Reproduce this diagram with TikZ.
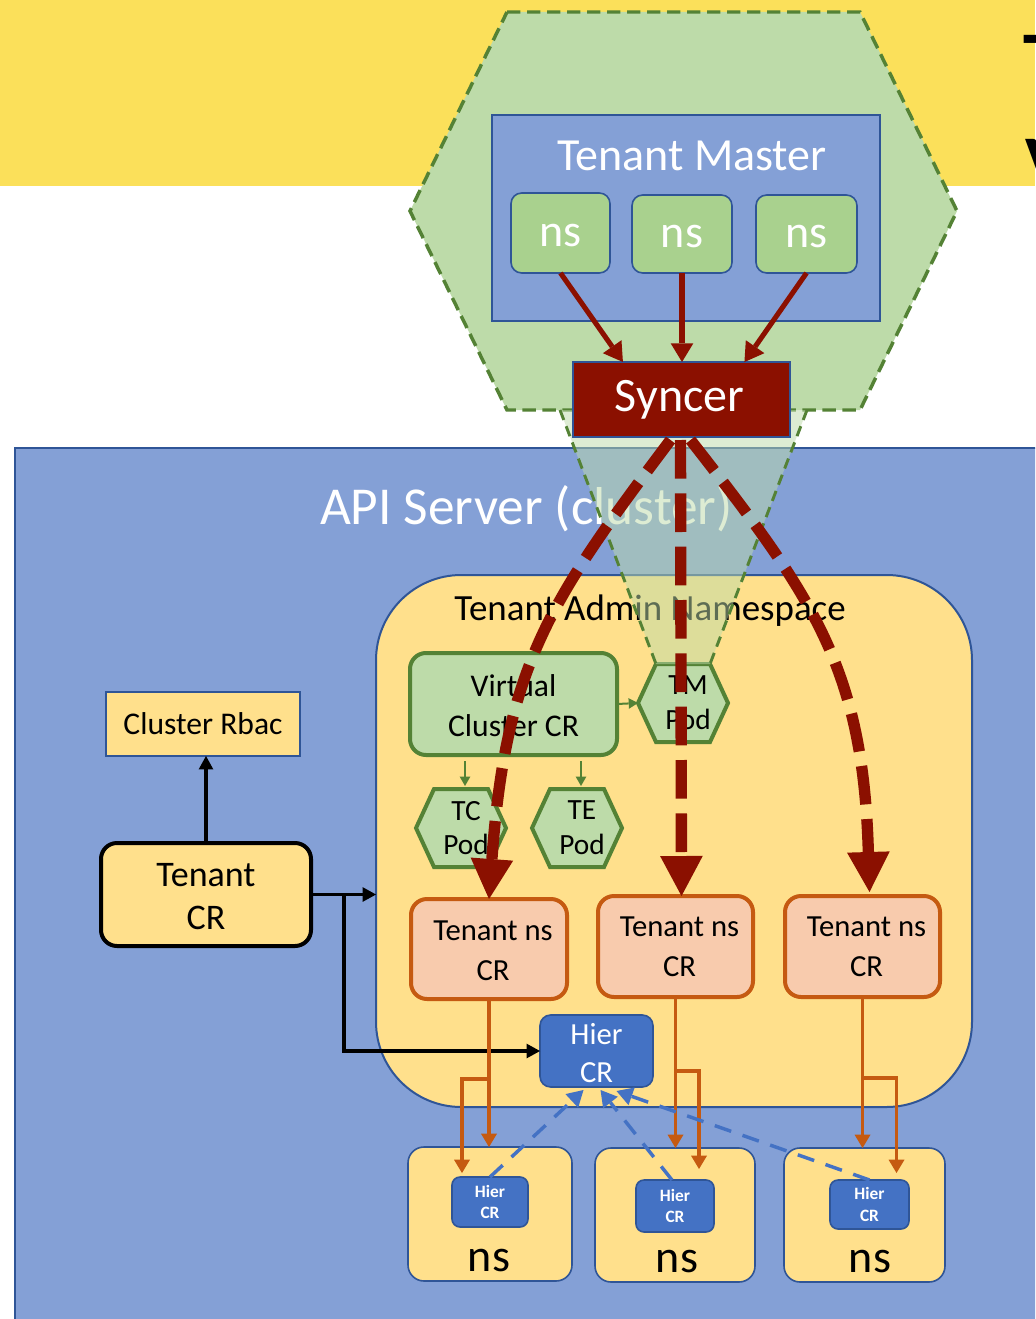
\documentclass[tikz,border=0pt]{standalone}
\usepackage{fontspec}
\setmainfont{Carlito}
\usetikzlibrary{arrows.meta,fit,calc}

\definecolor{bandyellow}{HTML}{FBE05A}
\definecolor{hexgreen}{HTML}{BDDBA9}
\definecolor{leafgreen}{HTML}{548235}
\definecolor{skyblue}{HTML}{84A0D6}
\definecolor{navy}{HTML}{2F5597}
\definecolor{nsgreen}{HTML}{A9D18E}
\definecolor{syncred}{HTML}{8B1000}
\definecolor{cream}{HTML}{FFE08C}
\definecolor{salmon}{HTML}{F8CBAD}
\definecolor{rust}{HTML}{C55A11}
\definecolor{hierblue}{HTML}{4472C4}

\newcommand\fsz[2]{\fontsize{#1}{#2}\selectfont}
% hexagonal pod: name, centre x, centre y, label
\newcommand\podhex[4]{%
  \draw[podshape] ({#2-45},#3) -- ({#2-27},{#3-39}) -- ({#2+27},{#3-39})
    -- ({#2+45},#3) -- ({#2+27},{#3+39}) -- ({#2-27},{#3+39}) -- cycle;
  \node[podtext] (#1) at ({#2+5},#3) {#4};
  \coordinate (#1-w) at ({#2-45},#3);
  \coordinate (#1-n) at ({#2+4},{#3-39});
}

\tikzset{
  lbl/.style={inner sep=0pt, outer sep=0pt, align=center},
  podshape/.style={fill=hexgreen, draw=leafgreen, line width=3pt, line join=miter},
  podtext/.style={lbl, font=\fsz{22}{26}},
  topns/.style={lbl, fill=nsgreen, draw=navy, line width=1.2pt, rounded corners=8pt},
  crbox/.style={lbl, fill=salmon, draw=rust, line width=3pt, rounded corners=12pt},
  hierbig/.style={lbl, fill=hierblue, draw=navy, line width=1.2pt, rounded corners=8pt},
  hiersmall/.style={lbl, fill=hierblue, draw=navy, line width=1.2pt, rounded corners=6pt},
  nsbox/.style={lbl, fill=cream, draw=navy, line width=1.2pt, rounded corners=12pt},
  nstext/.style={lbl, text=white, font=\fsz{34.5}{40}},
  crtext/.style={lbl, font=\fsz{23}{30}},
  hiertext/.style={lbl, text=white, font=\fsz{23}{29}},
  smalltext/.style={lbl, text=white, font=\bfseries\fsz{13}{16}},
  nslabel/.style={lbl, font=\fsz{34.5}{40}},
  trapedge/.style={draw=leafgreen, line width=2.2pt, dash pattern=on 8pt off 5pt},
  syncflow/.style={draw=syncred, line width=3.8pt, -{Triangle[width=17pt,length=14pt,line width=0pt]}},
  syncdash/.style={draw=syncred, line width=8.5pt, dash pattern=on 29pt off 11pt, -{Triangle[width=32pt,length=30pt,line width=0pt]}},
  rustarrow/.style={draw=rust, line width=2.6pt, -{Triangle[width=12pt,length=10pt,line width=0pt]}},
  bluedash/.style={draw=hierblue, line width=2.6pt, dash pattern=on 13pt off 9pt, -{Triangle[width=14pt,length=12pt,line width=0pt]}},
  blackarrow/.style={draw=black, line width=2.6pt, -{Triangle[width=11pt,length=10pt,line width=0pt]}},
  greenarrow/.style={draw=leafgreen, line width=1.5pt, -{Triangle[width=8pt,length=7pt,line width=0pt]}},
}

\begin{document}
\begin{tikzpicture}[x=0.75pt, y=-0.75pt]
\useasboundingbox (0,0) rectangle (1035,1319);
\clip (0,0) rectangle (1035,1319);
\fill[white] (0,0) rectangle (1035,1319);

% heading band
\fill[bandyellow] (0,0) rectangle (1035,186);
\node[lbl, anchor=base west, font=\bfseries\fsz{58}{64}] (head1) at (1023,86) {T};
\node[lbl, anchor=base west, font=\bfseries\fsz{58}{64}] (head2) at (1025,190) {V};

% host API server
\node[lbl, fill=skyblue, draw=navy, line width=1.5pt, fit={(15,448) (1045,1330)}] (api) {};
\node[lbl, anchor=base west, text=white, font=\fsz{40}{48}] (apitext) at (320,524) {API Server (cluster)};

% tenant master
\draw[fill=hexgreen, draw=leafgreen, line width=2.6pt, dash pattern=on 10pt off 5pt]
  (507,12) -- (860,12) -- (957,211) -- (860,410) -- (507,410) -- (410,211) -- cycle;
\node[lbl, fill=skyblue, draw=navy, line width=1.5pt, fit={(492,115) (880,321)}] (master) {};
\node[lbl, anchor=base, text=white, font=\fsz{34.5}{40}] (mastertext) at (692,171) {Tenant Master};
\node[topns, fit={(511,193) (610,273)}] (ns1) {};
\node[topns, fit={(632,195) (732,273)}] (ns2) {};
\node[topns, fit={(756,195) (857,273)}] (ns3) {};
\node[nstext] (ns1-t) at ($(ns1.center)+(0,3)$) {ns};
\node[nstext] (ns2-t) at ($(ns2.center)+(0,3)$) {ns};
\node[nstext] (ns3-t) at ($(ns3.center)+(0,3)$) {ns};

% tenant admin namespace
\node[lbl, fill=cream, draw=navy, line width=1.5pt, rounded corners=64pt, fit={(376,575) (972,1107)}] (admin) {};
\node[lbl, anchor=base, font=\fsz{27.7}{32}] (admintext) at (650,620) {Tenant Admin Namespace};

% tenant object and its rbac
\node[lbl, fill=cream, draw=navy, line width=1.2pt, fit={(106,692) (300,756)}] (rbac) {};
\node[lbl, font=\fsz{23.7}{28}] (rbac-t) at (rbac.center) {Cluster Rbac};
\node[lbl, fill=cream, draw=black, line width=3pt, rounded corners=12pt, fit={(101,843) (311,946)}] (tenantcr) {};
\node[lbl, font=\fsz{27}{32}] (tenantcr-t) at ($(tenantcr.center)+(0,2)$) {Tenant\\CR};

% virtual cluster and its pods
\node[lbl, fill=hexgreen, draw=leafgreen, line width=3pt, rounded corners=12pt, fit={(410,653) (617,755)}] (vccr) {};
\node[lbl, font=\fsz{23.7}{30}] (vccr-t) at ($(vccr.center)+(0,2)$) {Virtual\\Cluster CR};
\podhex{tmpod}{683}{703}{TM\\Pod}
\podhex{tcpod}{461}{828}{TC\\Pod}
\podhex{tepod}{577}{828}{TE\\Pod}
\draw[greenarrow] (vccr.east) -- (tmpod-w);
\draw[greenarrow] ($(vccr.south -| tcpod-n)+(0,6)$) -- ($(tcpod-n)+(0,-3)$);
\draw[greenarrow] ($(vccr.south -| tepod-n)+(0,6)$) -- ($(tepod-n)+(0,-3)$);

% tenant namespace objects
\node[crbox, fit={(411,899) (567,999)}] (nscr1) {};
\node[crbox, fit={(598,896) (753,997)}] (nscr2) {};
\node[crbox, fit={(785,896) (940,997)}] (nscr3) {};
\node[crtext] (nscr1-t) at ($(nscr1.center)+(4,2)$) {Tenant ns\\CR};
\node[crtext] (nscr2-t) at ($(nscr2.center)+(4,0)$) {Tenant ns\\CR};
\node[crtext] (nscr3-t) at ($(nscr3.center)+(4,0)$) {Tenant ns\\CR};
\node[hierbig, fit={(540,1015) (653,1087)}] (hier) {};
\node[hiertext] (hier-t) at ($(hier.center)+(0,2)$) {Hier\\CR};

% black links from the tenant object
\draw[blackarrow] (tenantcr.north) -- (tenantcr.north |- rbac.south);
\draw[blackarrow] (tenantcr.east) -- (tenantcr.east -| admin.west);
\draw[blackarrow] ($(tenantcr.east)+(33,0)$) |- (hier.west);

% host namespaces
\node[nsbox, fit={(408,1147) (572,1281)}] (nsb1) {};
\node[nsbox, fit={(595,1148) (755,1282)}] (nsb2) {};
\node[nsbox, fit={(784,1148) (945,1282)}] (nsb3) {};
\node[nslabel] (nsl1) at (489,1260) {ns};
\node[nslabel] (nsl2) at (677,1261) {ns};
\node[nslabel] (nsl3) at (870,1261) {ns};
\node[hiersmall, fit={(452,1177) (528,1227)}] (hs1) {};
\node[hiersmall, fit={(636,1180) (714,1232)}] (hs2) {};
\node[hiersmall, fit={(830,1180) (909,1229)}] (hs3) {};
\node[smalltext] (hs1-t) at (hs1.center) {Hier\\CR};
\node[smalltext] (hs2-t) at (hs2.center) {Hier\\CR};
\node[smalltext] (hs3-t) at (hs3.center) {Hier\\CR};

% namespace creation
\draw[rustarrow] (nscr1.south) -- (nscr1.south |- nsb1.north);
\draw[rustarrow] ($(nscr1.south)+(0,80)$) -| ($(hs1.north)+(-28,-4)$);
\draw[rustarrow] (nscr2.south) -- (nscr2.south |- nsb2.north);
\draw[rustarrow] ($(nscr2.south)+(0,74)$) -| ($(hs2.north)+(24,-11)$);
\draw[rustarrow] (nscr3.south) -- (nscr3.south |- nsb3.north);
\draw[rustarrow] ($(nscr3.south)+(0,81)$) -| ($(hs3.north)+(27,-7)$);

% hierarchy references
\draw[bluedash] (hs1.north) -- ($(hier.south)+(-13,3)$);
\draw[bluedash] ($(hs2.north)+(-3,0)$) -- ($(hier.south)+(4,3)$);
\draw[bluedash] (hs3.north) -- ($(hier.south)+(20,4)$);

% tenant master footprint down to its pod
\fill[hexgreen, fill opacity=0.5] (560,410) -- (807,410) -- (710,664) -- (656,664) -- cycle;
\draw[trapedge] (560,410) -- (656,664);
\draw[trapedge] (807,410) -- (710,664);

% syncer
\node[lbl, fill=syncred, draw=navy, line width=1.2pt, fit={(573,362) (790,437)}] (syncer) {};
\node[lbl, text=white, font=\fsz{36}{40}] (syncer-t) at ($(syncer.center)+(-2,0)$) {Syncer};
\draw[syncflow] (ns1.south) -- ($(syncer.north west)!0.23!(syncer.north east)$);
\draw[syncflow] (ns2.south) -- (ns2.south |- syncer.north);
\draw[syncflow] (ns3.south) -- ($(syncer.north west)!0.79!(syncer.north east)$);

\draw[syncdash] ($(syncer.south)+(-11,3)$) .. controls (550,600) and (506,665) .. (nscr1.north);
\draw[syncdash] ($(syncer.south)+(-1,3)$) -- (nscr2.north -| syncer.south);
\draw[syncdash] ($(syncer.south)+(9,3)$) .. controls (814,598) and (863,668) .. ($(nscr3.north)+(7,-4)$);
\end{tikzpicture}
\end{document}
